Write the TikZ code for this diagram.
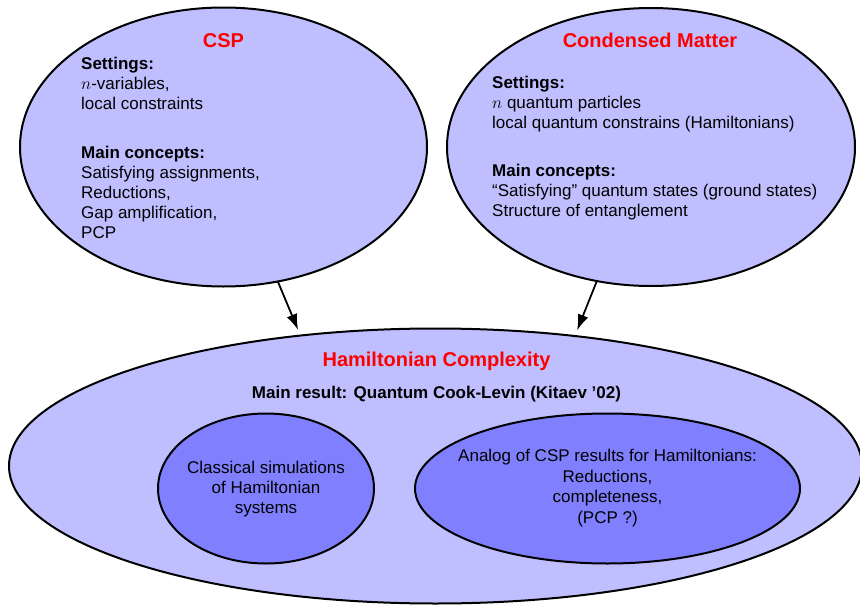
\documentclass[tikz,border=0pt]{standalone}
\usepackage{fontspec}
\setmainfont{Liberation Sans}
\usetikzlibrary{shapes.geometric,arrows.meta}
\begin{document}
\begin{tikzpicture}[x=1pt,y=-1pt,
  oval/.style={ellipse, draw=black, line width=2pt, inner sep=0pt, outer sep=0pt},
  outeroval/.style={oval, fill=blue!25},
  inneroval/.style={oval, fill=blue!50},
  ttl/.style={text=red, font=\fontsize{20}{24}\selectfont\bfseries, anchor=base, inner sep=0pt},
  txtl/.style={font=\fontsize{17}{20}\selectfont, anchor=base west, inner sep=0pt},
  txtc/.style={font=\fontsize{17}{20}\selectfont, anchor=base, inner sep=0pt},
  link/.style={-{Latex[length=16pt,width=11pt]}, line width=1.8pt, shorten >=6pt}]
\useasboundingbox (0,0) rectangle (860,605);

% ellipses
\node[outeroval, minimum width=407pt, minimum height=279pt] (csp) at (223.5,147) {};
\node[outeroval, minimum width=408pt, minimum height=278pt] (cm) at (651,147) {};
\node[outeroval, minimum width=853pt, minimum height=275pt] (ham) at (435.5,466) {};
\node[inneroval, minimum width=216pt, minimum height=150pt] (sim) at (266,488.5) {};
\node[inneroval, minimum width=385pt, minimum height=150pt] (analog) at (607.5,488.5) {};

% CSP texts
\node[ttl] (csptitle) at (223.5,47.7) {CSP};
\node[txtl] (cspset) at (81,69) {\begin{tabular}[t]{@{}l@{}}\textbf{Settings:}\\ $n$-variables,\\ local constraints\end{tabular}};
\node[txtl] (cspcon) at (81,158) {\begin{tabular}[t]{@{}l@{}}\textbf{Main concepts:}\\ Satisfying assignments,\\ Reductions,\\ Gap amplification,\\ PCP\end{tabular}};

% Condensed matter texts
\node[ttl] (cmtitle) at (650,47.7) {Condensed Matter};
\node[txtl] (cmset) at (492,88) {\begin{tabular}[t]{@{}l@{}}\textbf{Settings:}\\ $n$ quantum particles\\ local quantum constrains (Hamiltonians)\end{tabular}};
\node[txtl] (cmcon) at (492,176) {\begin{tabular}[t]{@{}l@{}}\textbf{Main concepts:}\\ “Satisfying” quantum states (ground states)\\ Structure of entanglement\end{tabular}};

% Hamiltonian complexity texts
\node[ttl] (hamtitle) at (436.5,366.7) {Hamiltonian Complexity};
\node[txtc, font=\fontsize{17}{20}\selectfont\bfseries] (hamres) at (436.5,398.3) {Main result: Quantum Cook-Levin (Kitaev ’02)};
\node[txtc] (simtext) at (266,473) {\begin{tabular}[t]{@{}c@{}}Classical simulations\\ of Hamiltonian\\ systems\end{tabular}};
\node[txtc, font=\fontsize{17}{20.5}\selectfont] (analogtext) at (607.5,461.7) {\begin{tabular}[t]{@{}c@{}}Analog of CSP results for Hamiltonians:\\ Reductions,\\ completeness,\\ (PCP ?)\end{tabular}};

% arrows
\draw[link] (csp.-68.5) -- (ham.136);
\draw[link] (cm.-112.25) -- (ham.43.65);
\end{tikzpicture}
\end{document}
